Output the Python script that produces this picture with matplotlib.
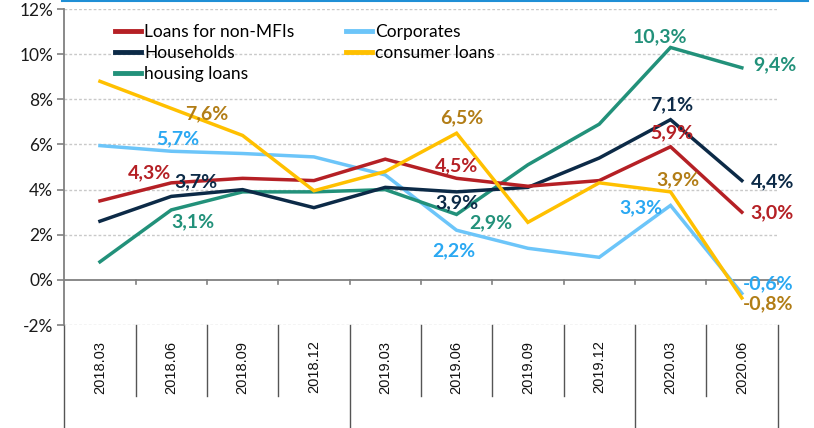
import matplotlib
matplotlib.use("Agg")
import matplotlib.pyplot as plt
from matplotlib.transforms import blended_transform_factory
from matplotlib.lines import Line2D

plt.rcParams['font.family'] = ['Lato', 'DejaVu Sans']

categories = ["2018.03", "2018.06", "2018.09", "2018.12", "2019.03",
              "2019.06", "2019.09", "2019.12", "2020.03", "2020.06"]
loans_non_mfi = [3.5, 4.3, 4.5, 4.4, 5.35, 4.5, 4.15, 4.4, 5.9, 3.0]
corporates = [5.95, 5.7, 5.6, 5.45, 4.65, 2.2, 1.4, 1.0, 3.3, -0.6]
households = [2.6, 3.7, 4.0, 3.2, 4.1, 3.9, 4.1, 5.4, 7.1, 4.4]
consumer = [8.8, 7.6, 6.4, 3.95, 4.8, 6.5, 2.55, 4.3, 3.9, -0.8]
housing = [0.8, 3.1, 3.9, 3.9, 4.0, 2.9, 5.1, 6.9, 10.3, 9.4]

c_red, c_navy, c_blue, c_yel, c_green = "#B52025", "#0C2A47", "#6CC5F9", "#FFC000", "#22917A"
l_red, l_navy, l_blue, l_yel, l_green = "#B52025", "#0C2A47", "#2AA8F2", "#B27D16", "#22917A"

fig = plt.figure(figsize=(8.14, 4.28), dpi=100)
W, H = 814, 428
left, right, top, bot = 64.3, 777.5, 9.1, 325.0
ax = fig.add_axes([left / W, 1 - bot / H, (right - left) / W, (bot - top) / H])

x = list(range(len(categories)))
series = [
    ("Loans for non-MFIs", loans_non_mfi, c_red),
    ("Households", households, c_navy),
    ("housing loans", housing, c_green),
    ("Corporates", corporates, c_blue),
    ("consumer loans", consumer, c_yel),
]
draw_order = [("Corporates", corporates, c_blue), ("housing loans", housing, c_green),
              ("Households", households, c_navy), ("Loans for non-MFIs", loans_non_mfi, c_red),
              ("consumer loans", consumer, c_yel)]
for name, vals, col in draw_order:
    ax.plot(x, vals, color=col, lw=2.5, solid_joinstyle='miter', zorder=3)

ax.set_xlim(-0.5, len(categories) - 0.5)
ax.set_ylim(-2, 12)
ax.set_yticks(range(-2, 13, 2))
ax.set_yticklabels([f"{v}%" for v in range(-2, 13, 2)], fontsize=12.5, color="#1a1a1a")
for v in range(-2, 13, 2):
    if v != 0:
        ax.axhline(v, xmin=0, xmax=1, color="#C9C9C9", lw=1, ls=(0, (2, 1.5)), zorder=1)
ax.axhline(0, color="#808080", lw=1.3, zorder=2)
for s in ["top", "right", "bottom"]:
    ax.spines[s].set_visible(False)
ax.spines["left"].set_color("#808080")
ax.spines["left"].set_linewidth(1.3)
ax.tick_params(axis='y', length=5, color="#808080", width=1.2, pad=3)
ax.set_xticks([])

trans = blended_transform_factory(ax.transData, ax.transAxes)
for b in range(1, len(categories) + 1):
    ax.plot([b - 0.5, b - 0.5], [0, -0.2], color="#808080", lw=1.2, clip_on=False, zorder=2)

ax_h = bot - top
short_y = -(396 - bot) / ax_h
long_y = -(H + 5 - bot) / ax_h
for b in range(0, len(categories) + 1):
    yb = long_y if b in (0, 4, 8, 10) else short_y
    ax.plot([b - 0.5, b - 0.5], [0, yb], transform=trans, color="#555555", lw=1.0, clip_on=False)
for i, c in enumerate(categories):
    ax.text(i, -(367 - bot) / ax_h, c, transform=trans, rotation=90, ha='center', va='center',
            fontsize=10.5, family=['Liberation Sans'], color="#111111")

labels = [
    (housing, 8, "10,3%", l_green, -11, -11, 'center'),
    (housing, 9, "9,4%", l_green, 11, -3, 'left'),
    (households, 8, "7,1%", l_navy, 1, -15, 'center'),
    (consumer, 1, "7,6%", l_yel, 35, 5, 'center'),
    (corporates, 1, "5,7%", l_blue, 7, -13, 'center'),
    (loans_non_mfi, 1, "4,3%", l_red, -22, -10, 'center'),
    (households, 1, "3,7%", l_navy, 25, -15, 'center'),
    (housing, 1, "3,1%", l_green, 22, 12, 'center'),
    (consumer, 5, "6,5%", l_yel, 5, -15, 'center'),
    (loans_non_mfi, 5, "4,5%", l_red, 0, -13, 'center'),
    (households, 5, "3,9%", l_navy, 0, 11, 'center'),
    (housing, 5, "2,9%", l_green, 34, 8, 'center'),
    (corporates, 5, "2,2%", l_blue, -3, 21, 'center'),
    (corporates, 8, "3,3%", l_blue, -30, 2, 'center'),
    (consumer, 8, "3,9%", l_yel, 7, -12, 'center'),
    (loans_non_mfi, 8, "5,9%", l_red, 1, -14, 'center'),
    (households, 9, "4,4%", l_navy, 9, 1, 'left'),
    (loans_non_mfi, 9, "3,0%", l_red, 9, 1, 'left'),
    (corporates, 9, "-0,6%", l_blue, 1, -10, 'left'),
    (consumer, 9, "-0,8%", l_yel, 1, 6, 'left'),
]
for vals, i, txt, col, dx, dy, ha in labels:
    ax.annotate(txt, (i, vals[i]), xytext=(dx * 0.72, -dy * 0.72), textcoords='offset points',
                ha=ha, va='center', fontsize=14, fontweight='bold', color=col, zorder=5)

handles = [Line2D([], [], color=c, lw=3.5) for _, _, c in series]
leg = ax.legend(handles, [n for n, _, _ in series], ncol=2, loc='upper left',
                bbox_to_anchor=(0.062, 0.975), frameon=False, fontsize=12.5,
                handlelength=1.45, handletextpad=0.2, columnspacing=3.0,
                labelspacing=0.3, borderaxespad=0)

fig.add_artist(Line2D([62 / W, 808 / W], [1 - 1.0 / H, 1 - 1.0 / H], color="#1F8FD6", lw=1.5))

fig.savefig("out.png", dpi=100)
